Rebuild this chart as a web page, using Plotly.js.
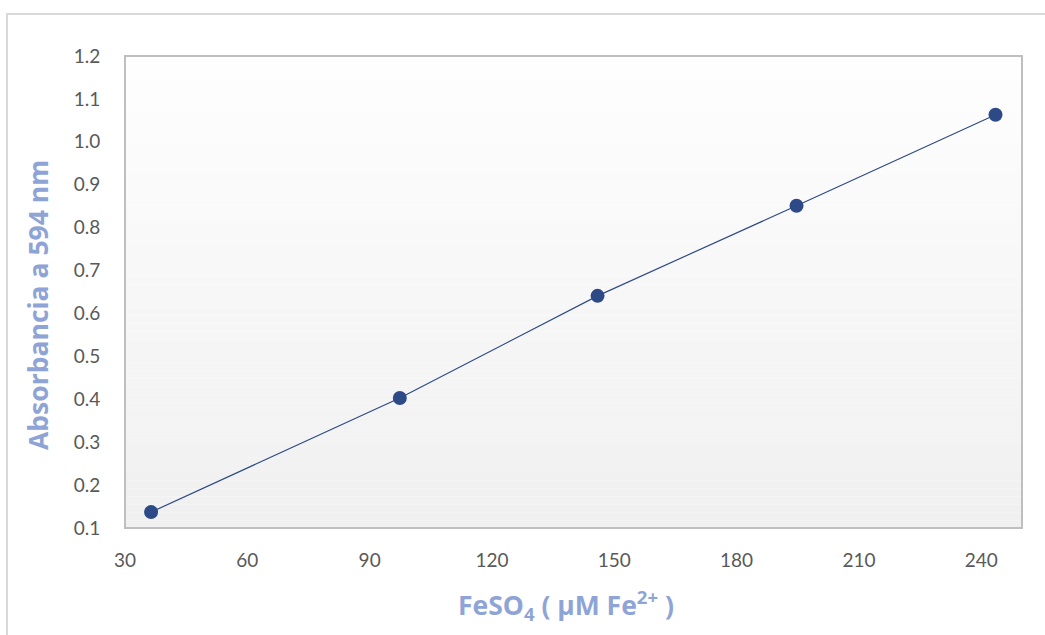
<!DOCTYPE html>
<html>
<head>
<meta charset="utf-8">
<script src="https://cdn.plot.ly/plotly-3.0.1.min.js"></script>
<style>
  html, body { margin: 0; padding: 0; background: #ffffff; overflow: hidden; }
  #frame { position: absolute; left: 6px; top: 13px; width: 1100px; height: 700px;
           border: 2px solid #d9d9d9; box-sizing: border-box; }
  #chart { position: absolute; left: 0; top: 0; width: 1045px; height: 635px; }
</style>
</head>
<body>
<div id="frame"></div>
<div id="chart"></div>
<script>
// FeSO4 calibration standards (µM Fe2+) and their absorbance at 594 nm
const concentration = [36.4, 97.4, 145.9, 194.7, 243.5];
const absorbance = [0.137, 0.403, 0.641, 0.851, 1.063];

const xTicks = [30, 60, 90, 120, 150, 180, 210, 240];
const yTicks = [0.1, 0.2, 0.3, 0.4, 0.5, 0.6, 0.7, 0.8, 0.9, 1.0, 1.1, 1.2];

const xTitle = '<b>FeSO<sub>4</sub> ( µM Fe<sup>2+</sup> )</b>';
const yTitle = '<b>Absorbancia a 594 nm</b>';

const tickFont = { family: 'Lato, "Open Sans", sans-serif', size: 19, color: '#595959' };
const titleFont = { family: '"Open Sans", Lato, sans-serif', size: 26.5, color: '#8fa4d6', weight: 'bold' };

// soft vertical gradient behind the plotting area, white at top to light grey at bottom
const bands = [];
const nBands = 60;
for (let i = 0; i < nBands; i++) {
  const t = i / (nBands - 1);
  const v = Math.round(254 - t * (254 - 240));
  bands.push({
    type: 'rect', xref: 'paper', yref: 'paper', layer: 'below',
    x0: 0, x1: 1, y0: 1 - (i + 1) / nBands, y1: 1 - i / nBands,
    fillcolor: `rgb(${v},${v},${v})`, line: { width: 0 }
  });
}
// plot-area border
bands.push({
  type: 'rect', xref: 'paper', yref: 'paper', layer: 'above',
  x0: 0, x1: 1, y0: 0, y1: 1, line: { color: '#bfbfbf', width: 2 }
});

const trace = {
  x: concentration,
  y: absorbance,
  type: 'scatter',
  mode: 'lines+markers',
  line: { color: '#2f4b87', width: 1.2 },
  marker: { color: '#2e4a86', size: 14 },
  hoverinfo: 'x+y'
};

const layout = {
  width: 1045,
  height: 635,
  margin: { l: 125, r: 23, t: 56, b: 107 },
  paper_bgcolor: 'rgba(0,0,0,0)',
  plot_bgcolor: 'rgba(0,0,0,0)',
  showlegend: false,
  shapes: bands,
  // axis titles, placed as annotations so they sit where the chart puts them
  annotations: [
    {
      text: xTitle, xref: 'paper', yref: 'paper', x: 0.4916, y: -0.163,
      xanchor: 'center', yanchor: 'middle', showarrow: false, font: titleFont
    },
    {
      text: yTitle, xref: 'paper', yref: 'paper', x: -0.097, y: 0.4725,
      xanchor: 'center', yanchor: 'middle', textangle: -90, showarrow: false, font: titleFont
    }
  ],
  xaxis: {
    range: [30, 250],
    tickvals: xTicks,
    ticktext: xTicks.map(String),
    showgrid: false,
    zeroline: false,
    showline: false,
    ticks: 'outside',
    ticklen: 15,
    tickcolor: 'rgba(0,0,0,0)',
    tickfont: tickFont
  },
  yaxis: {
    range: [0.1, 1.2],
    tickvals: yTicks,
    ticktext: yTicks.map(v => v.toFixed(1)),
    showgrid: false,
    zeroline: false,
    showline: false,
    ticks: 'outside',
    ticklen: 20,
    tickcolor: 'rgba(0,0,0,0)',
    tickfont: tickFont
  }
};

Plotly.newPlot('chart', [trace], layout, { displayModeBar: false, staticPlot: true });
</script>
</body>
</html>
